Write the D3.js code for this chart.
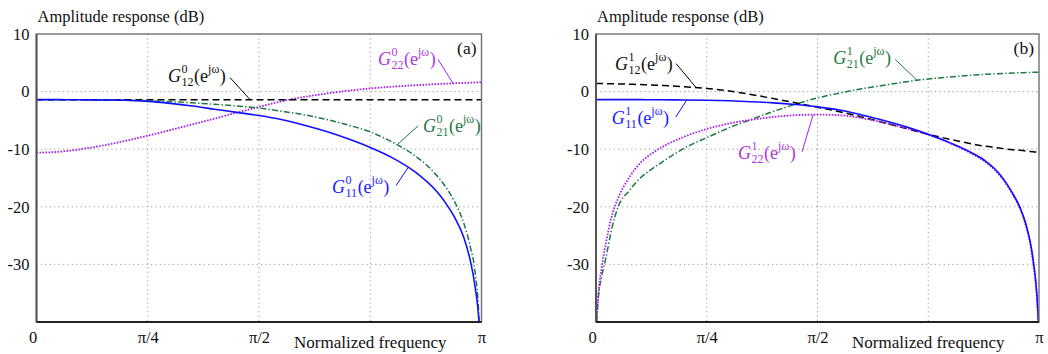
<!DOCTYPE html>
<html>
<head>
<meta charset="utf-8">
<script src="https://cdn.jsdelivr.net/npm/d3@7/dist/d3.min.js"></script>
<style>
  body { margin: 0; background: #fff; }
  svg, svg text { font-family: "Liberation Serif", "Times New Roman", serif; }
  svg { display: block; }
</style>
</head>
<body>
<svg id="chart" width="1048" height="354"></svg>
<script>
// ---- data (frequency in units of pi, amplitude in dB) ----
const yTicks = [10, 0, -10, -20, -30];
const xTickVals = [0, 0.25, 0.5, 1];
const xTickLabels = ["0", "π/4", "π/2", "π"];
const xGrid = [0.25, 0.5, 0.75];

// panel (a)
const freqA = [0, 0.05, 0.1, 0.15, 0.2, 0.25, 0.3, 0.35, 0.4, 0.45, 0.5, 0.55, 0.6, 0.65,
  0.7, 0.75, 0.8, 0.85, 0.9, 0.92, 0.94, 0.96, 0.975, 0.985, 0.995, 1.0];
const g11a = [-1.4, -1.4, -1.42, -1.46, -1.5, -1.7, -2.05, -2.5, -3.05, -3.6, -4.15, -4.85, -5.8, -6.9,
  -8.2, -9.7, -11.5, -13.9, -17.4, -19.4, -21.9, -25.3, -29.4, -33.6, -41, -55];
const g21a = [-1.4, -1.4, -1.42, -1.45, -1.5, -1.6, -1.75, -1.95, -2.2, -2.5, -2.85, -3.4, -4.0, -4.8,
  -5.8, -7.0, -8.8, -11.1, -14.6, -16.6, -19.2, -22.8, -27.0, -31.0, -40.5, -55];
const g12a = [-1.4, -1.4, -1.4, -1.4, -1.4, -1.4, -1.4, -1.4, -1.4, -1.4, -1.4, -1.4, -1.4, -1.4,
  -1.4, -1.4, -1.4, -1.4, -1.4, -1.4, -1.4, -1.4, -1.4, -1.4, -1.4, -1.4];
const g22a = [-10.6, -10.45, -10.0, -9.35, -8.55, -7.65, -6.7, -5.7, -4.7, -3.65, -2.65, -1.7, -0.95, -0.35,
  0.15, 0.55, 0.85, 1.1, 1.3, 1.38, 1.45, 1.5, 1.55, 1.58, 1.6, 1.6];

// panel (b)
const freqB = [0, 0.005, 0.013, 0.022, 0.035, 0.05, 0.075, 0.1, 0.125, 0.15, 0.2, 0.25, 0.3, 0.35,
  0.4, 0.45, 0.5, 0.55, 0.6, 0.65, 0.7, 0.75, 0.8, 0.85, 0.88, 0.9, 0.92, 0.94, 0.957, 0.97,
  0.98, 0.987, 0.995, 1.0];
const g11b = [-1.4, -1.4, -1.4, -1.4, -1.4, -1.4, -1.4, -1.4, -1.41, -1.42, -1.45, -1.5, -1.6, -1.75,
  -1.95, -2.25, -2.65, -3.2, -4.05, -5.0, -6.1, -7.4, -8.9, -10.7, -12.1, -13.4, -15.2, -17.6, -20.1, -22.9,
  -26.0, -29.3, -35.0, -42];
const g22b = [-42, -35.5, -30.5, -26.5, -21.8, -18.5, -14.9, -12.4, -10.8, -9.6, -7.8, -6.5, -5.55, -4.9,
  -4.4, -4.1, -4.0, -4.1, -4.6, -5.4, -6.35, -7.5, -9.0, -10.85, -12.3, -13.6, -15.4, -17.8, -20.3, -23.2,
  -26.4, -29.8, -35.6, -42];
const g21b = [-42, -36, -32, -29, -24, -20, -17.2, -15.0, -13.5, -12.2, -9.8, -8.0, -6.3, -4.85,
  -3.45, -2.2, -1.1, -0.25, 0.5, 1.1, 1.7, 2.2, 2.55, 2.85, 3.0, 3.08, 3.15, 3.22, 3.27, 3.3,
  3.32, 3.34, 3.36, 3.37];
const g12b = [1.4, 1.4, 1.39, 1.38, 1.36, 1.33, 1.28, 1.22, 1.15, 1.08, 0.85, 0.55, 0.1, -0.5,
  -1.2, -1.95, -2.7, -3.5, -4.4, -5.4, -6.4, -7.4, -8.3, -9.1, -9.5, -9.7, -9.9, -10.1, -10.2, -10.3,
  -10.4, -10.45, -10.5, -10.5];

// ---- styles ----
const styles = {
  g11: { color: "#1010ff", text: "#1a1aff", dash: null, width: 1.6 },
  g21: { color: "#1b7a40", text: "#1f7a45", dash: "6,2.2,1.4,2.2", width: 1.5 },
  g12: { color: "#000000", text: "#111111", dash: "7,4", width: 1.5 },
  g22: { color: "#a61ff0", text: "#b038dc", dash: "1.6,1.4", width: 1.8 }
};

const panels = [
  {
    left: 36.5, width: 445, tag: "(a)", sup: "0", freq: freqA,
    series: [["g22", g22a], ["g12", g12a], ["g21", g21a], ["g11", g11a]],
    notes: [
      { key: "g12", sub: "12", vals: g12a, f: 0.48, dx: -20, dy: -22, lx: -82, ly: -17.5 },
      { key: "g22", sub: "22", vals: g22a, f: 0.936, dx: -15, dy: -24, lx: -75, ly: -18.5 },
      { key: "g21", sub: "21", vals: g21a, f: 0.81, dx: 21, dy: -19, lx: 26, ly: -12.5 },
      { key: "g11", sub: "11", vals: g11a, f: 0.835, dx: -12, dy: 18, lx: -76, ly: 25 }
    ]
  },
  {
    left: 596, width: 443, tag: "(b)", sup: "1", freq: freqB,
    series: [["g21", g21b], ["g12", g12b], ["g22", g22b], ["g11", g11b]],
    notes: [
      { key: "g12", sub: "12", vals: g12b, f: 0.226, dx: -20, dy: -24, lx: -81, ly: -18 },
      { key: "g11", sub: "11", vals: g11b, f: 0.205, dx: -11, dy: 17, lx: -75, ly: 24 },
      { key: "g22", sub: "22", vals: g22b, f: 0.49, dx: -11, dy: 37, lx: -75, ly: 44 },
      { key: "g21", sub: "21", vals: g21b, f: 0.725, dx: -22, dy: -21, lx: -84, ly: -16 }
    ]
  }
];

const svg = d3.select("#chart");
svg.append("rect").attr("width", 1048).attr("height", 354).attr("fill", "#fff");

const plotTop = 34, plotBottom = 322;
const y = d3.scaleLinear().domain([-40, 10]).range([plotBottom, plotTop]);

function drawLabel(g, x0, y0, sup, sub, color) {
  const t = g.append("g").attr("fill", color);
  const G = t.append("text").attr("x", x0).attr("y", y0)
    .attr("font-size", 18).attr("font-style", "italic").text("G");
  let x1 = x0 + G.node().getComputedTextLength() + 0.5;
  const s1 = t.append("text").attr("x", x1).attr("y", y0 - 9).attr("font-size", 12).text(sup);
  const s2 = t.append("text").attr("x", x1).attr("y", y0 + 4).attr("font-size", 12).text(sub);
  x1 += Math.max(s1.node().getComputedTextLength(), s2.node().getComputedTextLength()) + 0.5;
  const e = t.append("text").attr("x", x1).attr("y", y0).attr("font-size", 18).text("(e");
  x1 += e.node().getComputedTextLength();
  const j = t.append("text").attr("x", x1).attr("y", y0 - 9).attr("font-size", 12).text("jω");
  x1 += j.node().getComputedTextLength() + 0.5;
  t.append("text").attr("x", x1).attr("y", y0).attr("font-size", 18).text(")");
}

panels.forEach((p, pi) => {
  const x = d3.scaleLinear().domain([0, 1]).range([p.left, p.left + p.width]);
  const g = svg.append("g");

  // grid
  g.selectAll(".gx").data(xGrid).enter().append("line")
    .attr("x1", d => x(d)).attr("x2", d => x(d)).attr("y1", plotTop).attr("y2", plotBottom)
    .attr("stroke", "#9a9a9a").attr("stroke-width", 1).attr("stroke-dasharray", "1.2,3.2");
  g.selectAll(".gy").data([0, -10, -20, -30]).enter().append("line")
    .attr("x1", x(0)).attr("x2", x(1)).attr("y1", d => y(d)).attr("y2", d => y(d))
    .attr("stroke", "#9a9a9a").attr("stroke-width", 1).attr("stroke-dasharray", "1.2,3.2");

  // curves
  const clipId = "clip" + pi;
  svg.append("clipPath").attr("id", clipId).append("rect")
    .attr("x", x(0)).attr("y", plotTop).attr("width", p.width).attr("height", plotBottom - plotTop);
  const line = d3.line().x((d, i) => x(p.freq[i])).y(d => y(d)).curve(d3.curveMonotoneX);
  const cg = g.append("g").attr("clip-path", `url(#${clipId})`);
  p.series.forEach(([key, vals]) => {
    const s = styles[key];
    cg.append("path").datum(vals).attr("d", line)
      .attr("fill", "none").attr("stroke", s.color).attr("stroke-width", s.width)
      .attr("stroke-dasharray", s.dash);
  });

  // frame
  g.append("rect").attr("x", x(0)).attr("y", plotTop).attr("width", p.width).attr("height", plotBottom - plotTop)
    .attr("fill", "none").attr("stroke", "#707070").attr("stroke-width", 1.4);
  g.append("line").attr("x1", x(0)).attr("x2", x(0)).attr("y1", plotTop).attr("y2", plotBottom)
    .attr("stroke", "#555").attr("stroke-width", 2);
  g.append("line").attr("x1", x(0)).attr("x2", x(1)).attr("y1", plotBottom).attr("y2", plotBottom)
    .attr("stroke", "#222").attr("stroke-width", 2);

  // axes
  const ya = g.append("g").attr("transform", `translate(${x(0)},0)`)
    .call(d3.axisLeft(y).tickValues(yTicks).tickSize(0).tickPadding(7).tickFormat(d => String(d)));
  ya.select(".domain").remove();
  ya.attr("font-family", null).attr("font-size", 16.5);
  ya.selectAll("text").attr("fill", "#111");

  const xa = g.append("g").attr("transform", `translate(0,${plotBottom})`)
    .call(d3.axisBottom(x).tickValues(xTickVals).tickSize(0).tickPadding(9)
      .tickFormat((d, i) => xTickLabels[i]));
  xa.select(".domain").remove();
  xa.attr("font-family", null).attr("font-size", 16.5);
  xa.selectAll("text").attr("fill", "#111").attr("dx", d => d === 0 ? -4 : 0);

  // titles
  g.append("text").attr("x", x(0) + 1).attr("y", 22).attr("font-size", 16.5)
    .attr("fill", "#111").text("Amplitude response (dB)");
  g.append("text").attr("x", x(0.75)).attr("y", 348).attr("text-anchor", "middle")
    .attr("font-size", 17).attr("fill", "#111").text("Normalized frequency");
  g.append("text").attr("x", x(1) - 5).attr("y", 54).attr("text-anchor", "end")
    .attr("font-size", 17.5).attr("fill", "#111").text(p.tag);

  // annotations
  p.notes.forEach(n => {
    const s = styles[n.key];
    const at = d3.scaleLinear().domain(p.freq).range(n.vals);
    const ex = x(n.f), ey = y(at(n.f));
    g.append("line").attr("x1", ex + n.dx).attr("y1", ey + n.dy).attr("x2", ex).attr("y2", ey)
      .attr("stroke", s.color).attr("stroke-width", 1);
    drawLabel(g, ex + n.lx, ey + n.ly, p.sup, n.sub, s.text);
  });
});
</script>
</body>
</html>
